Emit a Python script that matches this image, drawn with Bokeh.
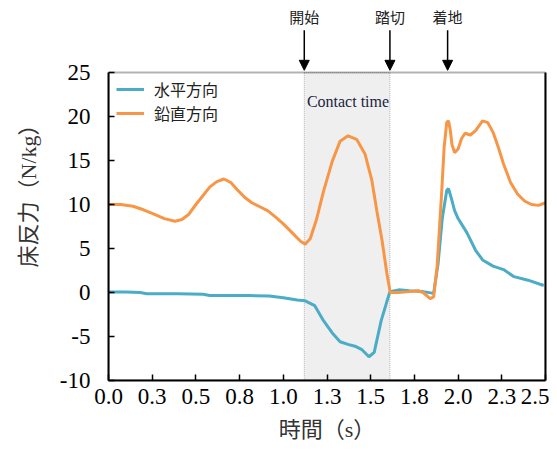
from bokeh.plotting import figure
from bokeh.models import (Range1d, FixedTicker, BoxAnnotation, Label, Arrow,
                          NormalHead, Legend, LegendItem, LinearAxis)
from bokeh.embed import file_html
from bokeh.resources import INLINE

# ---- data ----
t_h = [0.00, 0.10, 0.18, 0.22, 0.40, 0.54, 0.58, 0.80, 0.92, 1.00, 1.08, 1.125,
       1.18, 1.23, 1.28, 1.325, 1.37, 1.41, 1.45, 1.49, 1.52, 1.56, 1.59, 1.61,
       1.66, 1.72, 1.80, 1.86, 1.885, 1.91, 1.935, 1.945, 1.96, 1.98, 2.00,
       2.05, 2.10, 2.14, 2.20, 2.26, 2.32, 2.40, 2.49]
v_h = [0.05, 0.05, 0.0, -0.15, -0.15, -0.2, -0.35, -0.35, -0.4, -0.6, -0.85, -0.95,
       -1.5, -3.2, -4.6, -5.6, -5.9, -6.1, -6.5, -7.3, -6.8, -3.2, -1.2, 0.1,
       0.3, 0.2, 0.1, -0.1, 3.2, 8.5, 11.6, 11.8, 10.8, 9.3, 8.4,
       6.8, 4.8, 3.7, 3.0, 2.6, 1.8, 1.4, 0.8]

t_v = [0.00, 0.07, 0.14, 0.20, 0.26, 0.32, 0.38, 0.42, 0.46, 0.50, 0.54, 0.58,
       0.62, 0.66, 0.70, 0.74, 0.78, 0.82, 0.86, 0.91, 0.96, 1.00, 1.05, 1.10,
       1.125, 1.154, 1.19, 1.23, 1.28, 1.325, 1.37, 1.42, 1.468, 1.507, 1.535,
       1.565, 1.593, 1.612, 1.66, 1.72, 1.77, 1.80, 1.84, 1.86, 1.88, 1.905,
       1.92, 1.935, 1.945, 1.955, 1.965, 1.98, 2.00, 2.02, 2.04, 2.07, 2.10,
       2.14, 2.17, 2.20, 2.23, 2.26, 2.30, 2.34, 2.38, 2.42, 2.46, 2.50]
v_v = [10.0, 10.0, 9.8, 9.4, 8.9, 8.4, 8.1, 8.3, 8.9, 10.0, 11.0, 12.0,
       12.6, 12.9, 12.5, 11.6, 10.8, 10.2, 9.8, 9.3, 8.5, 7.8, 6.8, 5.8,
       5.5, 6.1, 8.3, 11.5, 14.9, 17.2, 17.8, 17.4, 15.7, 12.7, 9.3,
       5.9, 2.1, 0.0, 0.0, 0.1, 0.2, 0.0, -0.7, -0.5, 3.0, 11.0,
       16.5, 19.3, 19.5, 18.5, 16.8, 15.9, 16.3, 17.5, 18.1, 17.9, 18.4,
       19.5, 19.3, 18.2, 16.5, 14.6, 12.5, 11.2, 10.4, 10.0, 9.9, 10.2]

x_ticks = [0.0, 0.25, 0.5, 0.75, 1.0, 1.25, 1.5, 1.75, 2.0, 2.25, 2.5]
x_tick_labels = ["0.0", "0.3", "0.5", "0.8", "1.0", "1.3", "1.5", "1.8", "2.0", "2.3", "2.5"]
y_ticks = [-10, -5, 0, 5, 10, 15, 20, 25]
y_tick_labels = ["-10", "-5", "0", "5", "10", "15", "20", "25"]

series_names = ["水平方向", "鉛直方向"]
series_colors = ["#4BACC6", "#F79646"]

contact_start, contact_end, landing = 1.12, 1.61, 1.94
event_labels = ["開始", "踏切", "着地"]
event_times = [contact_start, contact_end, landing]

y_min, y_max = -10, 25
x_min, x_max = 0, 2.5
# headroom above the plotting box holds the event markers (layout only)
y_top = y_max + (y_max - y_min) * 72 / 308

SERIF = "'Liberation Serif', 'Noto Sans CJK JP'"
SANS = "Noto Sans CJK JP"

p = figure(width=549, height=449, output_backend="svg", toolbar_location=None,
           x_range=Range1d(x_min, x_max), y_range=Range1d(y_min, y_top),
           min_border_left=108, min_border_right=4, min_border_top=0,
           min_border_bottom=69)
p.xgrid.visible = False
p.ygrid.visible = False
p.outline_line_color = None
p.background_fill_color = "white"
p.border_fill_color = "white"

# contact-time shading with dotted edges
p.add_layout(BoxAnnotation(left=contact_start, right=contact_end, bottom=y_min, top=y_max,
                           fill_color="#efefef", fill_alpha=1, line_color="#222222",
                           line_width=1, line_dash="1 1", level="underlay"))

r_h = p.line(t_h, v_h, line_color=series_colors[0], line_width=3)
r_v = p.line(t_v, v_v, line_color=series_colors[1], line_width=3)

# box around the plotting area (top and right edges)
p.add_layout(BoxAnnotation(left=x_min, right=x_max, bottom=y_min, top=y_max,
                           fill_alpha=0, line_color="black", line_width=2))
right_ax = LinearAxis(bounds=(y_min, y_max), ticker=FixedTicker(ticks=[]),
                      axis_line_color="black", axis_line_width=2,
                      major_tick_line_color=None, minor_tick_line_color=None,
                      major_label_text_font_size="0px")
p.add_layout(right_ax, "right")

legend = Legend(items=[LegendItem(label=series_names[0], renderers=[r_h]),
                       LegendItem(label=series_names[1], renderers=[r_v])],
                location=(6, 253), margin=0, padding=2, spacing=0,
                glyph_width=28, glyph_height=20, label_standoff=10,
                label_text_font=SANS, label_text_font_size="16px",
                label_text_color="#222222", label_height=20,
                border_line_alpha=0, background_fill_alpha=0)
p.add_layout(legend)

p.add_layout(Label(x=1.135, y=21.7, text="Contact time", text_font="Liberation Serif",
                   text_font_size="16px", text_color="#1a2340", text_baseline="middle"))

for lab, tx in zip(event_labels, event_times):
    p.add_layout(Label(x=tx, y=31.35, text=lab, text_font=SANS, text_font_size="15px",
                       text_color="#222222", text_align="center", text_baseline="middle"))
    p.add_layout(Arrow(x_start=tx, y_start=29.8, x_end=tx, y_end=25.25,
                       line_color="black", line_width=1.5,
                       end=NormalHead(size=10, fill_color="black", line_color="black")))

for ax in (p.xaxis[0], p.yaxis[0]):
    ax.axis_line_color = "black"
    ax.axis_line_width = 2
    ax.major_tick_line_color = "black"
    ax.major_tick_line_width = 1.5
    ax.major_tick_in = 6
    ax.major_tick_out = 0
    ax.minor_tick_line_color = None
    ax.major_label_text_font = "Liberation Serif"
    ax.major_label_text_font_size = "23px"
    ax.major_label_text_color = "black"
    ax.axis_label_text_font = SERIF
    ax.axis_label_text_font_size = "22px"
    ax.axis_label_text_font_style = "normal"
    ax.axis_label_text_color = "#333333"

p.yaxis[0].bounds = (y_min, y_max)
p.xaxis.ticker = FixedTicker(ticks=x_ticks)
p.xaxis.major_label_overrides = dict(zip(x_ticks, x_tick_labels))
p.yaxis[0].ticker = FixedTicker(ticks=y_ticks)
p.yaxis[0].major_label_overrides = dict(zip(y_ticks, y_tick_labels))
p.xaxis.axis_label = "時間（s）"
p.yaxis[0].axis_label = "床反力（N/kg）"
p.xaxis.major_label_standoff = 8
p.yaxis[0].major_label_standoff = 18
p.xaxis.axis_label_standoff = 10
p.yaxis[0].axis_label_standoff = 16

open("out.html", "w").write(file_html(p, INLINE))
